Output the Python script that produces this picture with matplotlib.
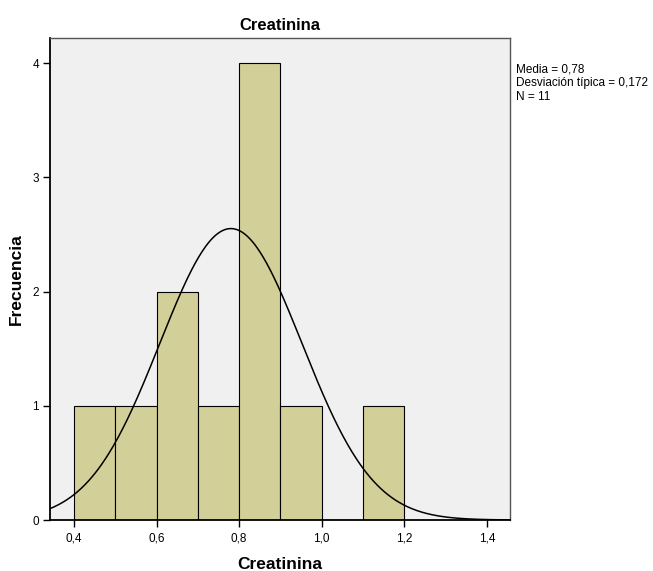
import numpy as np
import matplotlib.pyplot as plt

# Creatinina: bin edges and counts per bin
bin_edges = [0.4, 0.5, 0.6, 0.7, 0.8, 0.9, 1.0, 1.1, 1.2]
counts = [1, 1, 2, 1, 4, 1, 0, 1]
media = 0.78
desv = 0.172
n = 11

x_ticks = [0.4, 0.6, 0.8, 1.0, 1.2, 1.4]
y_ticks = [0, 1, 2, 3, 4]

plt.rcParams['font.family'] = ['Liberation Sans', 'DejaVu Sans']

fig = plt.figure(figsize=(6.53, 5.71), dpi=100)
ax = fig.add_axes([0.0766, 0.0893, 0.7045, 0.8442])
ax.set_facecolor('#f0f0f0')

widths = np.diff(bin_edges)
ax.bar(bin_edges[:-1], counts, width=widths, align='edge',
       color='#d3cf98', edgecolor='black', linewidth=0.8, zorder=2)

# normal curve scaled to the histogram area
xlo, xhi = 0.342, 1.456
xs = np.linspace(xlo, xhi, 400)
bw = widths[0]
ys = n * bw / (desv * np.sqrt(2 * np.pi)) * np.exp(-0.5 * ((xs - media) / desv) ** 2)
ax.plot(xs, ys, color='black', linewidth=1.1, zorder=3)

ax.set_xlim(xlo, xhi)
ax.set_ylim(0, 4.22)
ax.set_xticks(x_ticks)
ax.set_xticklabels([f'{v:.1f}'.replace('.', ',') for v in x_ticks])
ax.set_yticks(y_ticks)
ax.tick_params(axis='x', direction='out', length=5, width=1, labelsize=8.5, pad=4)
ax.tick_params(axis='y', direction='out', length=5, width=1, labelsize=8.5, pad=3)

for side in ['top', 'right']:
    ax.spines[side].set_color('#555555')
    ax.spines[side].set_linewidth(1.0)
for side in ['left', 'bottom']:
    ax.spines[side].set_color('black')
    ax.spines[side].set_linewidth(1.3)

ax.set_title('Creatinina', fontsize=12, fontweight='bold', pad=6)
ax.set_xlabel('Creatinina', fontsize=12.5, fontweight='bold', labelpad=9)
ax.set_ylabel('Frecuencia', fontsize=12.5, fontweight='bold', labelpad=6)

fig.text(0.7905, 0.889,
         'Media = 0,78\nDesviación típica = 0,172\nN = 11',
         fontsize=8.5, va='top', ha='left', linespacing=1.2)

fig.savefig('out.png', dpi=100)
